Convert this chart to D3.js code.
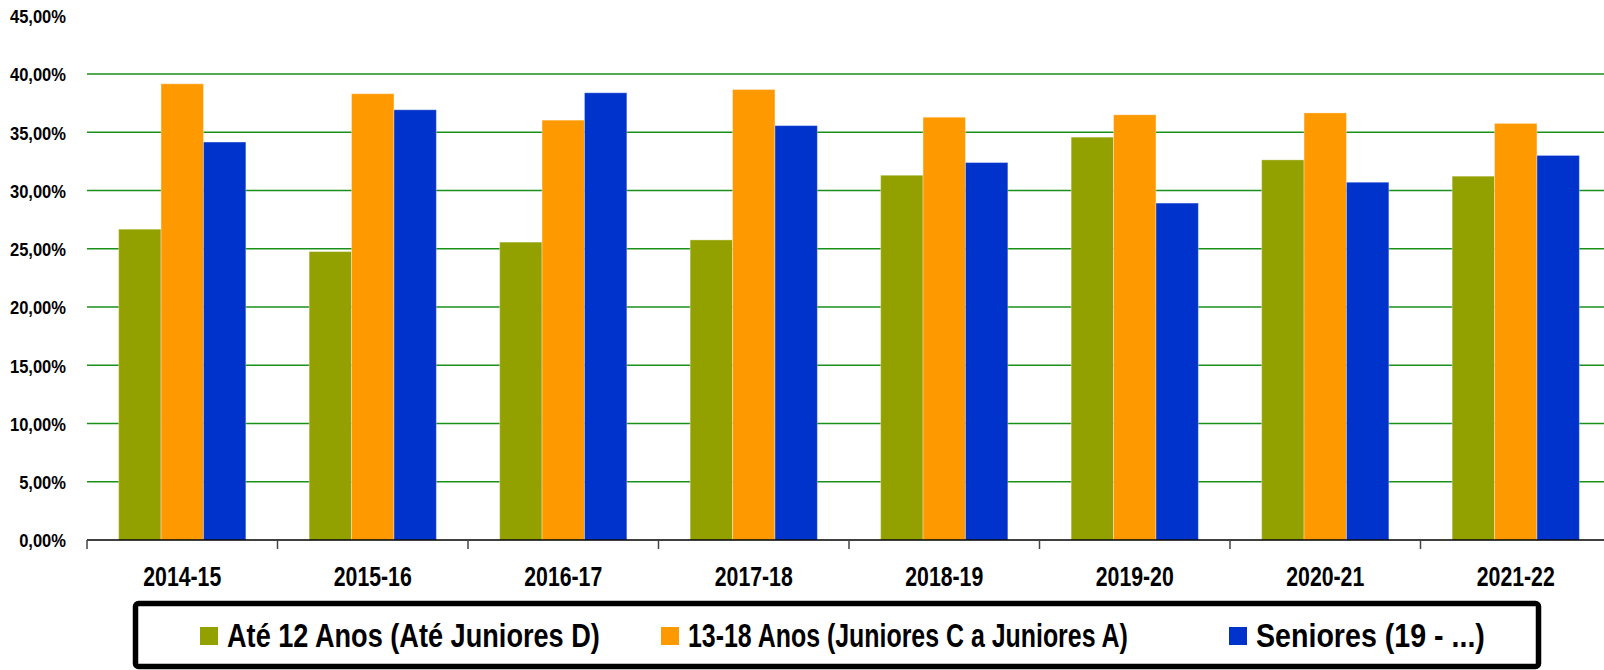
<!DOCTYPE html>
<html>
<head>
<meta charset="utf-8">
<script src="https://cdn.jsdelivr.net/npm/d3@7"></script>
<style>
  body { margin: 0; background: #fff; }
  svg text { font-family: "Liberation Sans", Arial, sans-serif; font-weight: bold; fill: #000; }
</style>
</head>
<body>
<div id="chart"></div>
<script>
// season labels along the x axis
const seasons = ["2014-15", "2015-16", "2016-17", "2017-18", "2018-19", "2019-20", "2020-21", "2021-22"];

// percentage of athletes per age group
const ate12 = [26.68, 24.76, 25.57, 25.76, 31.31, 34.58, 32.63, 31.23];
const juniores = [39.16, 38.31, 36.04, 38.67, 36.29, 36.50, 36.66, 35.76];
const seniores = [34.16, 36.93, 38.39, 35.57, 32.40, 28.92, 30.71, 33.01];

const seriesNames = ["Até 12 Anos (Até Juniores D)", "13-18 Anos (Juniores C a Juniores A)", "Seniores (19 - ...)"];
const seriesColors = ["#93a100", "#ff9900", "#0033cc"];
const yTicks = [0, 5, 10, 15, 20, 25, 30, 35, 40, 45];

const width = 1604, height = 670;
const svg = d3.select("#chart").append("svg")
  .attr("width", width)
  .attr("height", height);

const x0 = d3.scaleBand().domain(seasons).range([87, 1611]).padding(0);
const x1 = d3.scaleBand().domain([0, 1, 2]).range([0, x0.bandwidth()]).paddingOuter(0.746).paddingInner(0);
const y = d3.scaleLinear().domain([0, 45]).range([540, 15.75]);

const pt = d3.formatLocale({ decimal: ",", thousands: ".", grouping: [3], currency: ["", "€"] });
const fmt = v => pt.format(".2f")(v) + "%";

// squeeze text horizontally, the original uses a condensed face
function condense(sel, factor) {
  sel.each(function() {
    const len = this.getComputedTextLength();
    d3.select(this)
      .attr("textLength", len * factor)
      .attr("lengthAdjust", "spacingAndGlyphs");
  });
}

// gridlines (no line at the top value)
svg.append("g")
  .selectAll("line")
  .data(yTicks.filter(d => d > 0 && d < 45))
  .join("line")
  .attr("x1", 87)
  .attr("x2", width)
  .attr("y1", d => y(d))
  .attr("y2", d => y(d))
  .attr("stroke", "#1a8f1a")
  .attr("stroke-width", 1.4);

// y axis labels
const yAxis = svg.append("g")
  .attr("transform", "translate(66,0)")
  .call(d3.axisLeft(y).tickValues(yTicks).tickFormat(fmt).tickSize(0).tickPadding(0));
yAxis.select(".domain").remove();
yAxis.selectAll("text")
  .attr("font-size", 19)
  .attr("dy", "0.36em")
  .attr("font-family", null)
  .call(condense, 0.87);

// bars
const rows = seasons.map((s, i) => ({ season: s, values: [ate12[i], juniores[i], seniores[i]] }));
svg.append("g")
  .selectAll("g")
  .data(rows)
  .join("g")
  .attr("transform", d => `translate(${x0(d.season)},0)`)
  .selectAll("rect")
  .data(d => d.values.map((v, k) => ({ k, v })))
  .join("rect")
  .attr("x", d => x1(d.k))
  .attr("width", x1.bandwidth())
  .attr("y", d => y(d.v))
  .attr("height", d => y(0) - y(d.v))
  .attr("fill", d => seriesColors[d.k])
  .attr("stroke", "rgba(255,255,255,0.35)")
  .attr("stroke-width", 1);

// x axis
const xAxis = svg.append("g")
  .attr("transform", `translate(0,${y(0)})`)
  .call(d3.axisBottom(x0).tickSize(0).tickPadding(0));
xAxis.select(".domain").remove();
xAxis.selectAll("text")
  .attr("font-size", 28.5)
  .attr("y", 45.5)
  .attr("dy", null)
  .attr("font-family", null)
  .attr("textLength", 78)
  .attr("lengthAdjust", "spacingAndGlyphs");

svg.append("line")
  .attr("x1", 87).attr("x2", width)
  .attr("y1", y(0)).attr("y2", y(0))
  .attr("stroke", "#000").attr("stroke-width", 1.5);

svg.append("g")
  .selectAll("line")
  .data(seasons)
  .join("line")
  .attr("x1", d => x0(d)).attr("x2", d => x0(d))
  .attr("y1", y(0)).attr("y2", y(0) + 9)
  .attr("stroke", "#444").attr("stroke-width", 1.5);

// legend
const legend = svg.append("g");
legend.append("rect")
  .attr("x", 135.5).attr("y", 603.5)
  .attr("width", 1403).attr("height", 63)
  .attr("rx", 3)
  .attr("fill", "#fff")
  .attr("stroke", "#000")
  .attr("stroke-width", 5.5);

const legendX = [200, 661, 1229];
const legendW = [373, 440, 229];
const item = legend.selectAll("g.item")
  .data(seriesNames)
  .join("g")
  .attr("class", "item")
  .attr("transform", (d, i) => `translate(${legendX[i]},0)`);
item.append("rect")
  .attr("y", 627)
  .attr("width", 18).attr("height", 18)
  .attr("fill", (d, i) => seriesColors[i]);
// scale each label so its real box matches the narrow original
item.append("g")
  .attr("class", "lbl")
  .append("text")
  .attr("font-size", 34)
  .text(d => d);
item.select("g.lbl").each(function(d, i) {
  const natural = d3.select(this).select("text").node().getComputedTextLength();
  d3.select(this).attr("transform", `translate(27,646.5) scale(${legendW[i] / natural},1)`);
});
</script>
</body>
</html>
